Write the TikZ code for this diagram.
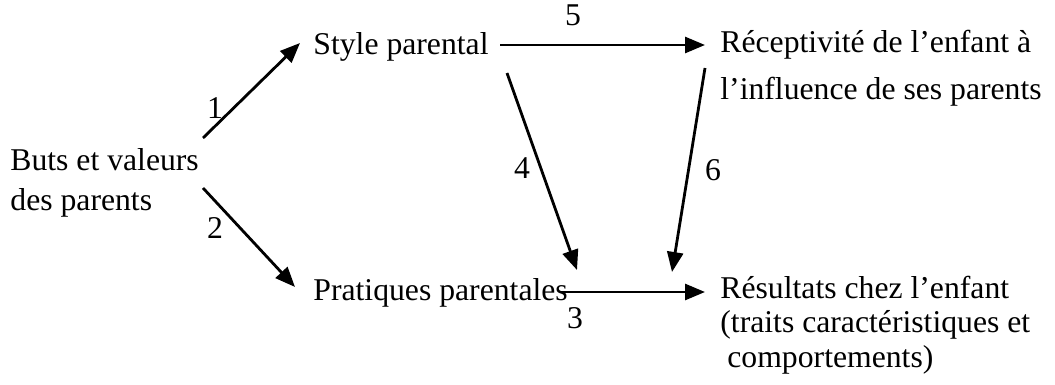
\documentclass[tikz,border=0pt]{standalone}
\usepackage{fontspec}
\setmainfont{Liberation Serif}
\usetikzlibrary{arrows.meta}
\begin{document}
\begin{tikzpicture}[x=0.5pt,y=-0.5pt,
 lbl/.style={inner sep=0pt, anchor=base west, align=left, font=\fontsize{15.85}{20}\selectfont},
 num/.style={inner sep=0pt, font=\fontsize{15.85}{20}\selectfont},
 arr/.style={line width=1.4pt, -{Triangle[length=10pt,width=8pt]}}]
\fill[white] (0,0) rectangle (1055,385);
\useasboundingbox (0,0) rectangle (1055,385);
\node[lbl, font=\fontsize{15.85}{20}\selectfont] (buts) at (10,210) {Buts et valeurs\\des parents};
\node[lbl] (style) at (313,55) {Style parental};
\node[lbl, font=\fontsize{15.85}{23.5}\selectfont] (recep) at (720,100) {Réceptivité de l’enfant à\\l’influence de ses parents};
\node[lbl] (prat) at (313,300) {Pratiques parentales};
\node[lbl, font=\fontsize{15.85}{17.2}\selectfont] (res) at (720,367) {Résultats chez l’enfant\\(traits caractéristiques et\\\hspace*{3.5pt}comportements)};
\coordinate (a1s) at (203,138); \coordinate (a1e) at (300,43);
\coordinate (a2s) at (203,188); \coordinate (a2e) at (295,287);
\coordinate (a5s) at (500,45);  \coordinate (a5e) at (705,45);
\coordinate (a4s) at (507,73);  \coordinate (a4e) at (577,270);
\coordinate (a6s) at (705,68);  \coordinate (a6e) at (672,272);
\coordinate (a3s) at (560,292); \coordinate (a3e) at (705,292);
\draw[arr] (a1s) -- (a1e);
\draw[arr] (a2s) -- (a2e);
\draw[arr] (a5s) -- (a5e);
\draw[arr] (a4s) -- (a4e);
\draw[arr] (a6s) -- (a6e);
\draw[arr] (a3s) -- (a3e);
\node[num] (n1) at (215,108) {1};
\node[num] (n2) at (215,228) {2};
\node[num] (n5) at (573,15) {5};
\node[num] (n4) at (522,168) {4};
\node[num] (n6) at (713,170) {6};
\node[num] (n3) at (575,318) {3};
\end{tikzpicture}
\end{document}
